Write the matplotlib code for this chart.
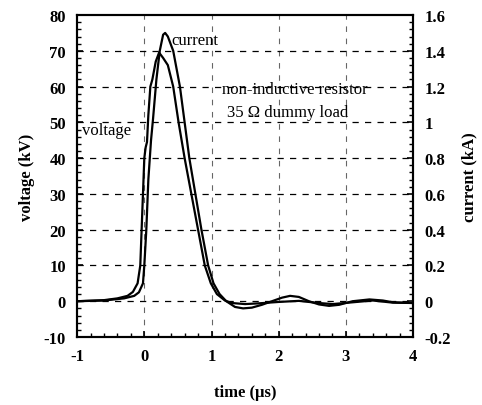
import matplotlib.pyplot as plt
from matplotlib.ticker import MultipleLocator

plt.rcParams['font.family'] = ['Liberation Serif', 'DejaVu Serif']
plt.rcParams['axes.unicode_minus'] = False

# voltage trace (time in us, kV)
v_t = [-1.0, -0.6, -0.4, -0.25, -0.17, -0.1, -0.06, -0.04, -0.02, 0.0, 0.02, 0.04,
       0.06, 0.09, 0.12, 0.17, 0.22, 0.28, 0.35, 0.43, 0.51, 0.6, 0.7, 0.8, 0.9,
       0.99, 1.08, 1.2, 1.3, 1.5, 1.7, 2.0, 2.3, 2.6, 2.8, 3.1, 3.4, 3.7, 4.0]
v_kv = [0, 0.3, 0.8, 1.5, 2.6, 5, 10, 20, 30, 40, 43, 44.5,
        52, 60, 62, 67, 69.5, 68, 66, 60, 50, 40, 30, 20, 10,
        5, 2, 0.2, -0.5, -0.8, -0.6, -0.2, 0.1, -0.5, -0.8, -0.3, 0.2, -0.4, -0.5]

# current trace (time in us, kA)
i_t = [-1.0, -0.6, -0.3, -0.15, -0.08, -0.02, 0.0, 0.03, 0.06, 0.1, 0.13, 0.18,
       0.23, 0.28, 0.31, 0.35, 0.43, 0.53, 0.67, 0.76, 0.85, 0.95, 1.03,
       1.12, 1.22, 1.35, 1.47, 1.6, 1.75, 1.9, 2.05, 2.17, 2.3, 2.45, 2.6, 2.75,
       2.9, 3.1, 3.35, 3.55, 3.7, 3.85, 4.0]
i_ka = [0, 0.004, 0.016, 0.03, 0.05, 0.1, 0.2, 0.4, 0.68, 0.9, 1.02, 1.24,
        1.4, 1.49, 1.5, 1.48, 1.40, 1.2, 0.8, 0.6, 0.4, 0.2, 0.1,
        0.04, 0.0, -0.032, -0.04, -0.036, -0.02, 0.0, 0.02, 0.03, 0.024, 0.0,
        -0.018, -0.026, -0.02, 0.0, 0.01, 0.004, -0.006, -0.008, -0.01]

fig = plt.figure(figsize=(4.82, 4.06), dpi=100)
ax = fig.add_axes([0.160, 0.1675, 0.697, 0.793])
ax2 = ax.twinx()

ax.plot(v_t, v_kv, color='black', lw=1.6)
ax2.plot(i_t, i_ka, color='black', lw=1.6)

ax.set_xlim(-1, 4)
ax.set_ylim(-10, 80)
ax2.set_ylim(-0.2, 1.6)

ax.xaxis.set_major_locator(MultipleLocator(1))
ax.xaxis.set_minor_locator(MultipleLocator(0.2))
ax.yaxis.set_major_locator(MultipleLocator(10))
ax.yaxis.set_minor_locator(MultipleLocator(2))
ax2.yaxis.set_minor_locator(MultipleLocator(0.04))
ax2.set_yticks([-0.2, 0, 0.2, 0.4, 0.6, 0.8, 1, 1.2, 1.4, 1.6])
ax2.set_yticklabels(['-0.2', '0', '0.2', '0.4', '0.6', '0.8', '1', '1.2', '1.4', '1.6'])

for a in (ax, ax2):
    a.tick_params(which='both', direction='in', labelsize=12, pad=8)
    a.tick_params(which='major', length=4, width=1.2)
    a.tick_params(which='minor', length=3, width=1.0)
    for lab in a.get_xticklabels() + a.get_yticklabels():
        lab.set_fontweight('bold')
    for s in a.spines.values():
        s.set_linewidth(1.5)
ax.tick_params(top=False, right=False)

for gx in [0, 1, 2, 3]:
    ax.axvline(gx, color='black', lw=0.8, ls=(0, (5, 6)), alpha=0.6)
for gy in range(0, 80, 10):
    ax.axhline(gy, color='black', lw=0.9, ls=(0, (5, 5)))

ax.set_xlabel('time (µs)', fontsize=12, fontweight='bold', labelpad=14)
ax.set_ylabel('voltage (kV)', fontsize=12, fontweight='bold', labelpad=6)
ax2.set_ylabel('current (kA)', fontsize=12, fontweight='bold', labelpad=8)

ax.text(0.4, 73, 'current', fontsize=12, va='center')
ax.text(-0.92, 48, 'voltage', fontsize=12, va='center')
ax.text(1.16, 59.3, 'non-inductive resistor', fontsize=12, va='center')
ax.text(1.23, 52.9, '35 Ω dummy load', fontsize=12, va='center')

fig.savefig('out.png', dpi=100)
